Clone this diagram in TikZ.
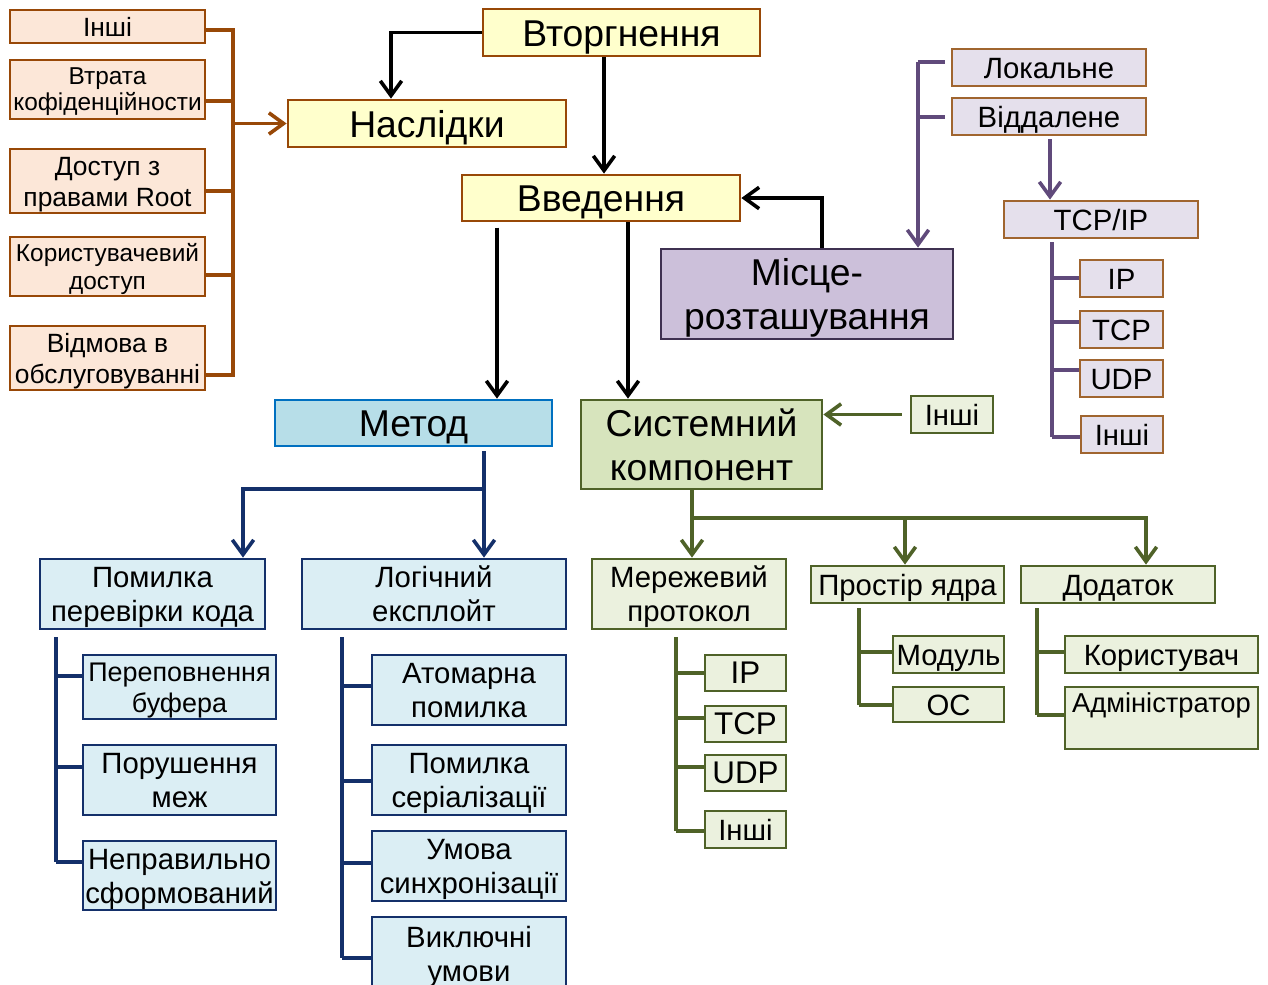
\documentclass[tikz,border=0pt]{standalone}
\usepackage{fontspec}
\setmainfont{Liberation Sans}
\usetikzlibrary{arrows.meta}
\definecolor{brn}{HTML}{984807}
\definecolor{peach}{HTML}{FCE7D8}
\definecolor{ylw}{HTML}{FFFFCC}
\definecolor{pdark}{HTML}{3F3151}
\definecolor{pfill}{HTML}{CCC0DA}
\definecolor{pline}{HTML}{604A7B}
\definecolor{plfill}{HTML}{E5E0EC}
\definecolor{plbord}{HTML}{A0652F}
\definecolor{mblue}{HTML}{0070C0}
\definecolor{mfill}{HTML}{B7DEE8}
\definecolor{navy}{HTML}{14306A}
\definecolor{nfill}{HTML}{DBEEF4}
\definecolor{olive}{HTML}{4F6228}
\definecolor{gfill}{HTML}{D7E4BD}
\definecolor{glfill}{HTML}{EBF1DE}
\newcommand\fL{\fontsize{28}{33}\selectfont}
\newcommand\fM{\fontsize{22}{25.5}\selectfont}
\newcommand\fS{\fontsize{19.8}{23.2}\selectfont}
\newcommand\fSa{\fontsize{18.3}{19.5}\selectfont}
\newcommand\fSb{\fontsize{18.3}{21}\selectfont}
\newcommand\fP{\fontsize{22}{25.5}\selectfont}
\newcommand\fG{\fontsize{23.5}{25.5}\selectfont}
\newcommand\fPer{\fontsize{20.2}{23.2}\selectfont}
\newcommand\fAdm{\fontsize{20.5}{22.2}\selectfont}
\newcommand\B[7]{\node[#1, minimum width={(#5-#3)*0.75pt}, minimum height={(#6-#4)*0.75pt}] (#2) at ({(#3+#5)/2},{(#4+#6)/2}) {\raisebox{-0.13em}[\height][\depth]{\begin{tabular}{@{}c@{}}#7\end{tabular}}};}
\tikzset{
  box/.style={draw, line width=2.1pt, inner sep=0pt},
  lbox/.style={box, draw=brn, fill=peach, font=\fS},
  ybox/.style={box, draw=brn, fill=ylw, font=\fL},
  pbox/.style={box, draw=pdark, fill=pfill, font=\fL},
  lpbox/.style={box, draw=plbord, fill=plfill, font=\fP},
  mbox/.style={box, draw=mblue, fill=mfill, font=\fL},
  nbox/.style={box, draw=navy, fill=nfill, font=\fM},
  gbox/.style={box, draw=olive, fill=gfill, font=\fL},
  gsm/.style={box, draw=olive, fill=glfill, font=\fP},
  ln/.style={line width=2.7pt},
  arr/.style={ln, -{Straight Barb[length=11pt,width=16pt]}},
  brnl/.style={ln, draw=brn},
  blkl/.style={ln, draw=black},
  purl/.style={ln, draw=pline},
  navl/.style={ln, draw=navy},
  grnl/.style={ln, draw=olive},
}
\begin{document}
\begin{tikzpicture}[x=0.75pt,y=-0.75pt]
\useasboundingbox[fill=white] (0,0) rectangle (1268,985);

% ---- left brown group
\B{lbox}{o1}{10}{10}{205}{43}{Інші}
\B{lbox, font=\fSa}{o2}{10}{60}{205}{119}{Втрата\\кофіденційности}
\B{lbox}{o3}{10}{149}{205}{213}{Доступ з\\правами Root}
\B{lbox, font=\fSb}{o4}{10}{237}{205}{296}{Користувачевий\\доступ}
\B{lbox}{o5}{10}{326}{205}{390}{Відмова в\\обслуговуванні}

% ---- main boxes
\B{ybox}{vtor}{483}{9}{760}{56}{Вторгнення}
\B{ybox}{nas}{288}{100}{566}{147}{Наслідки}
\B{ybox}{vved}{462}{175}{740}{221}{Введення}
\B{pbox}{mis}{661}{249}{953}{339}{Місце-\\розташування}
\B{mbox}{met}{275}{400}{552}{446}{Метод}
\B{gbox}{sys}{581}{400}{822}{489}{Системний\\компонент}
\B{gsm}{gi}{911}{396}{993}{433}{Інші}

% brown bus
\coordinate (b1) at (233,30);
\coordinate (b2) at (233,101);
\coordinate (b3) at (233,191);
\coordinate (b4) at (233,275);
\coordinate (b5) at (233,375);
\draw[brnl] (b1 -| o1.east) -- (b1);
\draw[brnl] (b2 -| o2.east) -- (b2);
\draw[brnl] (b3 -| o3.east) -- (b3);
\draw[brnl] (b4 -| o4.east) -- (b4);
\draw[brnl] (b5 -| o5.east) -- (b5);
\draw[brnl, line cap=rect] (b1) -- (b5);
\draw[brnl, arr] (b1 |- nas.west) -- (nas.west);

% black arrows
\coordinate (c1) at (391,0);
\coordinate (c2) at (604,0);
\coordinate (c3) at (822,0);
\coordinate (c4) at (497,0);
\coordinate (c5) at (628,0);
\draw[blkl, arr] (vtor.west) -| (c1 |- nas.north);
\draw[blkl, arr] (c2 |- vtor.south) -- (c2 |- vved.north);
\draw[blkl, arr] (c3 |- mis.north) |- (vved.east);
\draw[blkl, arr] ([yshift=-4pt]c4 |- vved.south) -- (c4 |- met.north);
\draw[blkl, arr] (c5 |- vved.south) -- (c5 |- sys.north);

% ---- purple group
\B{lpbox}{lok}{952}{49}{1146}{86}{Локальне}
\B{lpbox}{vid}{952}{98}{1146}{135}{Віддалене}
\B{lpbox}{tcpip}{1004}{201}{1198}{238}{TCP/IP}
\B{lpbox}{pip}{1080}{260}{1163}{297}{IP}
\B{lpbox}{ptcp}{1080}{311}{1163}{348}{TCP}
\B{lpbox}{pudp}{1080}{360}{1163}{397}{UDP}
\B{lpbox}{pin}{1081}{416}{1163}{453}{Інші}

\coordinate (q1) at (918,62);
\coordinate (q2) at (918,117);
\draw[purl] ([xshift=-4.5pt]q1 -| lok.west) -- (q1);
\draw[purl] ([xshift=-4.5pt]q2 -| vid.west) -- (q2);
\draw[purl, arr] (q1) -- (q1 |- mis.north);
\coordinate (q3) at (1050,0);
\draw[purl, arr] ([yshift=-2pt]q3 |- vid.south) -- (q3 |- tcpip.north);
\coordinate (r0) at (1052,242);
\coordinate (r1) at (1052,278);
\coordinate (r2) at (1052,322);
\coordinate (r3) at (1052,370);
\coordinate (r4) at (1052,437);
\draw[purl] (r0) -- (r4);
\draw[purl] (r1) -- (r1 -| pip.west);
\draw[purl] (r2) -- (r2 -| ptcp.west);
\draw[purl] (r3) -- (r3 -| pudp.west);
\draw[purl] (r4) -- (r4 -| pin.west);

% green Інші arrow
\draw[grnl, arr] ([xshift=-6pt]gi.west) -- (sys.east |- gi.west);

% ---- method subtree
\B{nbox}{pom}{40}{559}{265}{629}{Помилка\\перевірки кода}
\B{nbox}{log}{302}{559}{566}{629}{Логічний\\експлойт}
\B{nbox, font=\fPer}{per}{83}{655}{276}{719}{Переповнення\\буфера}
\B{nbox}{por}{83}{745}{276}{815}{Порушення\\меж}
\B{nbox}{nep}{83}{841}{276}{910}{Неправильно\\сформований}
\B{nbox}{ato}{372}{655}{566}{725}{Атомарна\\помилка}
\B{nbox}{ser}{372}{745}{566}{815}{Помилка\\серіалізації}
\B{nbox}{syn}{372}{831}{566}{901}{Умова\\синхронізації}
\B{nbox}{vyk}{372}{917}{566}{990}{Виключні\\умови}

\coordinate (m0) at (484,0);
\coordinate (m1) at (484,489);
\coordinate (m2) at (243,0);
\draw[navl, arr] ([yshift=-3pt]m0 |- met.south) -- (m0 |- log.north);
\draw[navl, arr] (m1) -| (m2 |- pom.north);

\coordinate (u0) at (56,637);
\coordinate (u1) at (56,676);
\coordinate (u2) at (56,767);
\coordinate (u3) at (56,862);
\draw[navl] (u0) -- (u3);
\draw[navl] (u1) -- (u1 -| per.west);
\draw[navl] (u2) -- (u2 -| por.west);
\draw[navl] (u3) -- (u3 -| nep.west);
\coordinate (v0) at (342,637);
\coordinate (v1) at (342,686);
\coordinate (v2) at (342,781);
\coordinate (v3) at (342,863);
\coordinate (v4) at (342,958);
\draw[navl] (v0) -- (v4);
\draw[navl] (v1) -- (v1 -| ato.west);
\draw[navl] (v2) -- (v2 -| ser.west);
\draw[navl] (v3) -- (v3 -| syn.west);
\draw[navl] (v4) -- (v4 -| vyk.west);

% ---- system component subtree
\B{gsm}{mer}{592}{559}{786}{629}{Мережевий\\протокол}
\B{gsm}{pro}{811}{566}{1004}{603}{Простір ядра}
\B{gsm}{dod}{1021}{566}{1215}{603}{Додаток}
\B{gsm, font=\fG}{g1}{705}{655}{786}{691}{IP}
\B{gsm, font=\fG}{g2}{705}{706}{786}{742}{TCP}
\B{gsm, font=\fG}{g3}{705}{755}{786}{791}{UDP}
\B{gsm}{g4}{705}{811}{786}{848}{Інші}
\B{gsm}{mod}{893}{636}{1004}{673}{Модуль}
\B{gsm}{os}{893}{687}{1004}{722}{ОС}
\B{gsm}{kor}{1065}{636}{1258}{673}{Користувач}
\B{gsm, font=\fAdm}{adm}{1065}{687}{1258}{749}{Адміністратор\\\mbox{}}

\coordinate (s0) at (692,0);
\coordinate (s1) at (692,518);
\coordinate (s2) at (905,0);
\coordinate (s3) at (1146,0);
\draw[grnl, arr] (s0 |- sys.south) -- (s0 |- mer.north);
\draw[grnl, arr] (s1) -| (s2 |- pro.north);
\draw[grnl, arr] (s1) -| (s3 |- dod.north);

\coordinate (w0) at (676,637);
\coordinate (w1) at (676,673);
\coordinate (w2) at (676,718);
\coordinate (w3) at (676,767);
\coordinate (w4) at (676,831);
\draw[grnl] (w0) -- (w4);
\draw[grnl] (w1) -- (w1 -| g1.west);
\draw[grnl] (w2) -- (w2 -| g2.west);
\draw[grnl] (w3) -- (w3 -| g3.west);
\draw[grnl] (w4) -- (w4 -| g4.west);

\coordinate (k0) at (859,608);
\coordinate (k1) at (859,652);
\coordinate (k2) at (859,705);
\draw[grnl] (k0) -- (k2);
\draw[grnl] (k1) -- (k1 -| mod.west);
\draw[grnl] (k2) -- (k2 -| os.west);

\coordinate (d0) at (1037,608);
\coordinate (d1) at (1037,652);
\coordinate (d2) at (1037,715);
\draw[grnl] (d0) -- (d2);
\draw[grnl] (d1) -- (d1 -| kor.west);
\draw[grnl] (d2) -- (d2 -| adm.west);
\end{tikzpicture}
\end{document}
